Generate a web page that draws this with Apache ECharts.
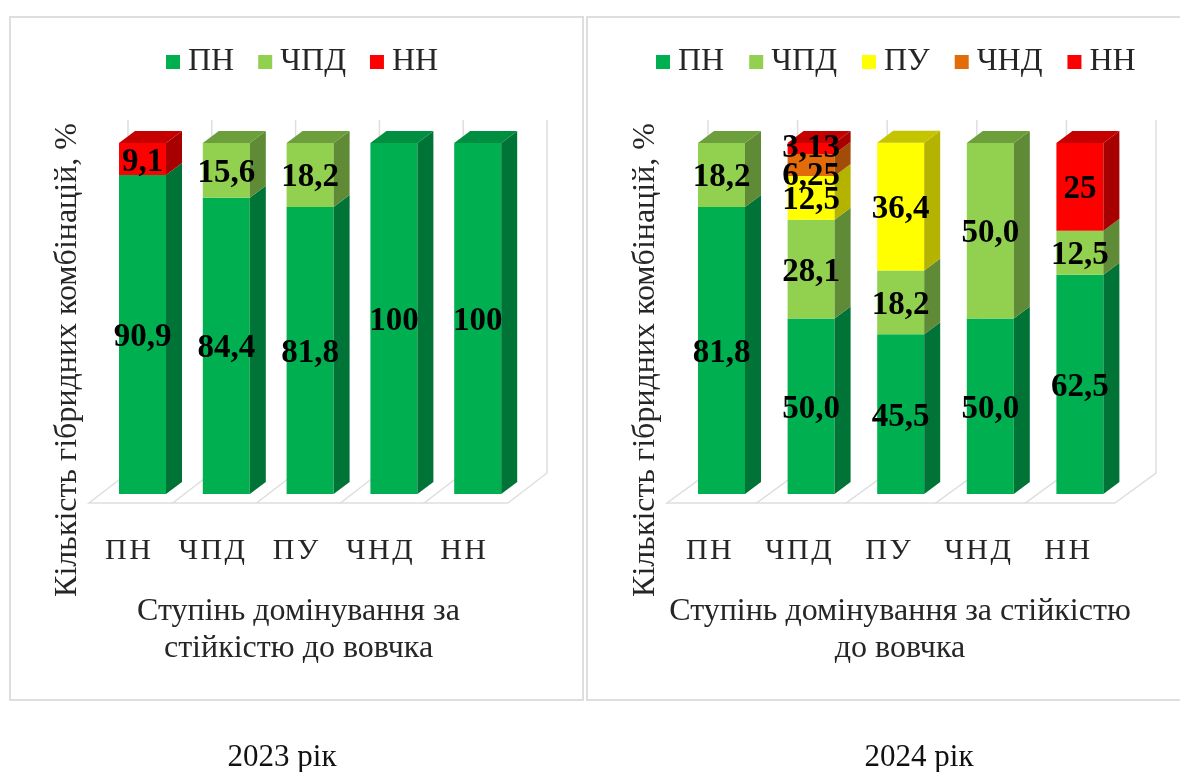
<!DOCTYPE html>
<html>
<head>
<meta charset="utf-8">
<title>Ступінь домінування</title>
<script src="https://cdn.jsdelivr.net/npm/echarts@6/dist/echarts.min.js"></script>
<style>
  html, body { margin: 0; padding: 0; background: #fff; }
  #chart { width: 1180px; height: 772px; }
</style>
</head>
<body>
<div id="chart"></div>
<script>
const categories = ['ПН', 'ЧПД', 'ПУ', 'ЧНД', 'НН'];

// 2023
const pn23 = [90.9, 84.4, 81.8, 100, 100];
const chpd23 = [null, 15.6, 18.2, null, null];
const nn23 = [9.1, null, null, null, null];

// 2024
const pn24 = [81.8, 50, 45.5, 50, 62.5];
const chpd24 = [18.2, 28.1, 18.2, 50, 12.5];
const pu24 = [null, 12.5, 36.4, null, null];
const chnd24 = [null, 6.25, null, null, null];
const nn24 = [null, 3.13, null, null, 25];

// these two are printed without a decimal on the chart
const wholeLabels = [25, 100];

const colors = { 'ПН': '#00b050', 'ЧПД': '#92d050', 'ПУ': '#ffff00', 'ЧНД': '#e36c0a', 'НН': '#ff0000' };
const sideColors = { 'ПН': '#007437', 'ЧПД': '#5f8a36', 'ПУ': '#b4b400', 'ЧНД': '#a34c07', 'НН': '#a80000' };
const topColors = { 'ПН': '#008e40', 'ЧПД': '#6c9e3c', 'ПУ': '#c4c400', 'ЧНД': '#b85808', 'НН': '#c40000' };
const font = '"Liberation Serif", serif';
const gray = '#dedede';
const barW = 47, depthX = 16, depthY = 12;

function fmt(v) {
  if (wholeLabels.includes(v)) return String(v);
  return (v % 1 === 0 ? v.toFixed(1) : String(v)).replace('.', ',');
}

// labels on the narrow segments were moved by hand in the original
function labelShift(v) {
  if (v === 3.13) return -3;
  if (v === 6.25) return 8;
  return 0;
}

function barItem(shift) {
  return function (params, api) {
    const cat = api.value(0), base = api.value(1), top = api.value(2), isTop = api.value(4);
    const name = params.seriesName;
    const p0 = api.coord([cat, base]);
    const p1 = api.coord([cat, top]);
    const x = p0[0] + shift - barW / 2;
    const xr = x + barW;
    const children = [
      { type: 'rect', shape: { x: x, y: p1[1], width: barW, height: p0[1] - p1[1] }, style: { fill: colors[name] } },
      {
        type: 'polygon',
        shape: { points: [[xr, p1[1]], [xr + depthX, p1[1] - depthY], [xr + depthX, p0[1] - depthY], [xr, p0[1]]] },
        style: { fill: sideColors[name] }
      },
      {
        type: 'text',
        z2: 100,
        style: {
          text: fmt(api.value(3)),
          x: x + barW / 2,
          y: (p0[1] + p1[1]) / 2 + 3 + labelShift(api.value(3)),
          align: 'center',
          verticalAlign: 'middle',
          font: 'bold 33px ' + font,
          fill: '#000'
        }
      }
    ];
    if (isTop) {
      children.splice(2, 0, {
        type: 'polygon',
        shape: { points: [[x, p1[1]], [x + depthX, p1[1] - depthY], [xr + depthX, p1[1] - depthY], [xr, p1[1]]] },
        style: { fill: topColors[name] }
      });
    }
    return { type: 'group', children: children };
  };
}

function floorItem(dx, dy) {
  return function (params, api) {
    const cat = api.value(0);
    const p = api.coord([cat, 0]);
    const band = api.size([1, 0])[0];
    const x0 = p[0] - band / 2;
    const yf = p[1] + 9;
    const topY = api.coord([cat, 100])[1] - 23;
    const line = { stroke: gray, lineWidth: 1.5, fill: null };
    const children = [
      { type: 'polyline', shape: { points: [[x0 + band, yf], [x0, yf], [x0 + dx, yf - dy], [x0 + dx, topY]] }, style: line }
    ];
    if (cat === categories.length - 1) {
      children.push({
        type: 'polyline',
        shape: { points: [[x0 + band, yf], [x0 + band + dx, yf - dy], [x0 + band + dx, topY]] },
        style: line
      });
    }
    return { type: 'group', children: children };
  };
}

// builds one custom series per stack level, walking bottom to top
function stackSeries(levels, index, shift) {
  const out = [];
  const base = categories.map(() => 0);
  const topLevel = categories.map((c, i) => {
    let last = -1;
    levels.forEach((l, k) => { if (l.values[i] != null) last = k; });
    return last;
  });
  levels.forEach((l, k) => {
    const data = [];
    l.values.forEach((v, i) => {
      if (v == null) return;
      data.push([i, base[i], base[i] + v, v, topLevel[i] === k ? 1 : 0]);
      base[i] += v;
    });
    out.push({
      type: 'custom',
      name: l.name,
      xAxisIndex: index,
      yAxisIndex: index,
      itemStyle: { color: colors[l.name] },
      encode: { x: 0, y: [1, 2] },
      renderItem: barItem(shift),
      data: data
    });
  });
  return out;
}

function floorSeries(index, dx, dy) {
  return {
    type: 'custom',
    name: 'floor' + index,
    xAxisIndex: index,
    yAxisIndex: index,
    silent: true,
    z: 1,
    encode: { x: 0, y: 1 },
    renderItem: floorItem(dx, dy),
    data: categories.map((c, i) => [i, 0])
  };
}

function xAxis(gridIndex, padLeft) {
  return {
    type: 'category',
    gridIndex: gridIndex,
    data: categories,
    axisLine: { show: false },
    axisTick: { show: false },
    axisLabel: {
      margin: 42,
      padding: [0, 6, 0, 0],
      fontFamily: font,
      fontSize: 30,
      color: '#262626',
      interval: 0,
      formatter: v => v.split('').join('\u200A')
    },
    name: gridIndex === 0
      ? 'Ступінь домінування за\nстійкістю до вовчка'
      : 'Ступінь домінування за стійкістю\nдо вовчка',
    nameLocation: 'middle',
    nameGap: 99,
    nameTextStyle: { fontFamily: font, fontSize: 32, color: '#262626', lineHeight: 37, padding: [0, 0, 0, padLeft] }
  };
}

function yAxis(gridIndex) {
  return { type: 'value', gridIndex: gridIndex, min: 0, max: 100, show: false };
}

function legend(data, left, gap) {
  return {
    data: data,
    left: left,
    top: 41,
    icon: 'rect',
    itemWidth: 14,
    itemHeight: 14,
    itemGap: gap,
    selectedMode: false,
    textStyle: { fontFamily: font, fontSize: 32, color: '#262626', padding: [0, 0, 0, 3] }
  };
}

function sideText(text, x, y) {
  return {
    type: 'text',
    x: x,
    y: y,
    rotation: Math.PI / 2,
    style: { text: text, font: '32px ' + font, fill: '#262626', align: 'center', verticalAlign: 'middle' }
  };
}

function yearText(text, x) {
  return {
    type: 'text',
    x: x,
    y: 758,
    style: { text: text, font: '31px ' + font, fill: '#111', align: 'center', verticalAlign: 'middle' }
  };
}

const chart = echarts.init(document.getElementById('chart'), null, { renderer: 'canvas' });
chart.setOption({
  animation: false,
  backgroundColor: '#fff',
  legend: [
    legend(['ПН', 'ЧПД', 'НН'], 161, 24),
    legend(['ПН', 'ЧПД', 'ПУ', 'ЧНД', 'НН'], 651, 25)
  ],
  grid: [
    { left: 89, top: 143, width: 419, height: 351 },
    { left: 667, top: 143, width: 448, height: 351 }
  ],
  xAxis: [xAxis(0, 0), xAxis(1, 18)],
  yAxis: [yAxis(0), yAxis(1)],
  graphic: [
    { type: 'rect', silent: true, shape: { x: 10, y: 17, width: 573, height: 683 }, style: { fill: 'none', stroke: gray, lineWidth: 2 } },
    { type: 'rect', silent: true, shape: { x: 587, y: 17, width: 600, height: 683 }, style: { fill: 'none', stroke: gray, lineWidth: 2 } },
    sideText('Кількість гібридних комбінацій, %', 68, 360),
    sideText('Кількість гібридних комбінацій, %', 646, 360),
    yearText('2023 рік', 282),
    yearText('2024 рік', 919)
  ],
  series: [
    floorSeries(0, 39, 30),
    floorSeries(1, 41, 30)
  ].concat(
    stackSeries([
      { name: 'ПН', values: pn23 },
      { name: 'ЧПД', values: chpd23 },
      { name: 'НН', values: nn23 }
    ], 0, 11.6),
    stackSeries([
      { name: 'ПН', values: pn24 },
      { name: 'ЧПД', values: chpd24 },
      { name: 'ПУ', values: pu24 },
      { name: 'ЧНД', values: chnd24 },
      { name: 'НН', values: nn24 }
    ], 1, 9.7)
  )
});
</script>
</body>
</html>
